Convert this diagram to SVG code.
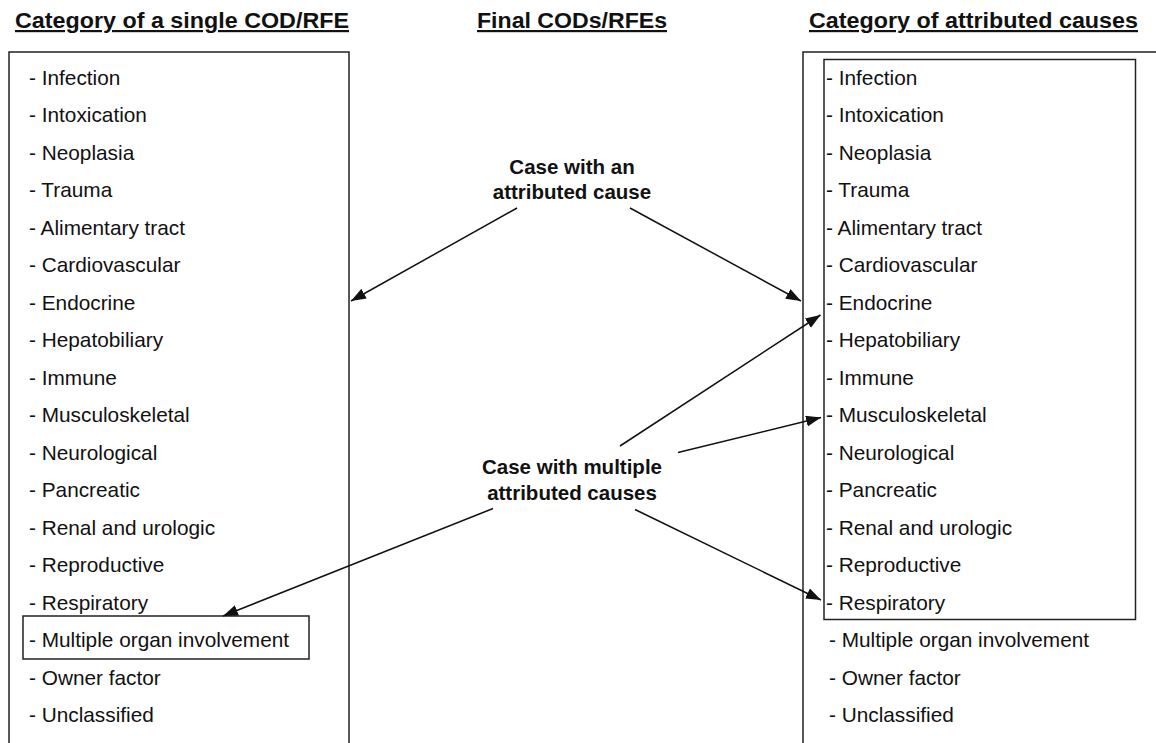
<svg xmlns="http://www.w3.org/2000/svg" width="1156" height="743" viewBox="0 0 1156 743">
<style>
.h{font-family:"Liberation Sans",Arial,sans-serif;font-weight:bold;font-size:22px;fill:#111;text-decoration:underline}
.t{font-family:"Liberation Sans",Arial,sans-serif;font-size:20.8px;fill:#111}
.m{font-family:"Liberation Sans",Arial,sans-serif;font-weight:bold;font-size:20.5px;fill:#111;text-anchor:middle}
.box{fill:none;stroke:#222;stroke-width:1.5}
.ul{stroke:#222;stroke-width:1.6}
.c{stroke:#111;stroke-width:1.5;fill:none;marker-end:url(#ah)}
</style>
<defs>
<marker id="ah" markerUnits="userSpaceOnUse" markerWidth="16" markerHeight="12" refX="15" refY="5.5" orient="auto">
<path d="M0,0 L15,5.5 L0,11 Z" fill="#111"/>
</marker>
</defs>
<rect width="1156" height="743" fill="#fff"/>
<g id="headers">
<text class="h" x="15" y="28" textLength="334" lengthAdjust="spacingAndGlyphs">Category of a single COD/RFE</text>
<text class="h" x="477" y="28" textLength="190" lengthAdjust="spacingAndGlyphs">Final CODs/RFEs</text>
<text class="h" x="809" y="28" textLength="329" lengthAdjust="spacingAndGlyphs">Category of attributed causes</text>
</g>
<g id="left-list">
<rect class="box" x="9" y="52" width="340" height="720"/>
<rect class="box" x="23" y="616" width="286" height="43"/>
<text class="t" x="29" y="84.5">- Infection</text>
<text class="t" x="29" y="122">- Intoxication</text>
<text class="t" x="29" y="159.5">- Neoplasia</text>
<text class="t" x="29" y="197">- Trauma</text>
<text class="t" x="29" y="234.5">- Alimentary tract</text>
<text class="t" x="29" y="272">- Cardiovascular</text>
<text class="t" x="29" y="309.5">- Endocrine</text>
<text class="t" x="29" y="347">- Hepatobiliary</text>
<text class="t" x="29" y="384.5">- Immune</text>
<text class="t" x="29" y="422">- Musculoskeletal</text>
<text class="t" x="29" y="459.5">- Neurological</text>
<text class="t" x="29" y="497">- Pancreatic</text>
<text class="t" x="29" y="534.5">- Renal and urologic</text>
<text class="t" x="29" y="572">- Reproductive</text>
<text class="t" x="29" y="609.5">- Respiratory</text>
<text class="t" x="29" y="647">- Multiple organ involvement</text>
<text class="t" x="29" y="684.5">- Owner factor</text>
<text class="t" x="29" y="722">- Unclassified</text>
</g>
<g id="right-list">
<rect class="box" x="803" y="52" width="400" height="720"/>
<rect class="box" x="824" y="59.5" width="311.5" height="560"/>
<text class="t" x="826" y="84.5">- Infection</text>
<text class="t" x="826" y="122">- Intoxication</text>
<text class="t" x="826" y="159.5">- Neoplasia</text>
<text class="t" x="826" y="197">- Trauma</text>
<text class="t" x="826" y="234.5">- Alimentary tract</text>
<text class="t" x="826" y="272">- Cardiovascular</text>
<text class="t" x="826" y="309.5">- Endocrine</text>
<text class="t" x="826" y="347">- Hepatobiliary</text>
<text class="t" x="826" y="384.5">- Immune</text>
<text class="t" x="826" y="422">- Musculoskeletal</text>
<text class="t" x="826" y="459.5">- Neurological</text>
<text class="t" x="826" y="497">- Pancreatic</text>
<text class="t" x="826" y="534.5">- Renal and urologic</text>
<text class="t" x="826" y="572">- Reproductive</text>
<text class="t" x="826" y="609.5">- Respiratory</text>
<text class="t" x="829" y="647">- Multiple organ involvement</text>
<text class="t" x="829" y="684.5">- Owner factor</text>
<text class="t" x="829" y="722">- Unclassified</text>
</g>
<g id="single-case">
<text class="m" x="572" y="173.5">Case with an</text>
<text class="m" x="572" y="198.5">attributed cause</text>
</g>
<g id="multiple-case">
<text class="m" x="572" y="474">Case with multiple</text>
<text class="m" x="572" y="499.5">attributed causes</text>
</g>
<g id="connectors">
<line class="c" x1="517" y1="208" x2="351" y2="301"/>
<line class="c" x1="630" y1="208" x2="801" y2="301"/>
<line class="c" x1="620" y1="446" x2="820.5" y2="315"/>
<line class="c" x1="678" y1="452.5" x2="821" y2="417.5"/>
<line class="c" x1="493" y1="508.5" x2="223" y2="616"/>
<line class="c" x1="635" y1="509.5" x2="821" y2="600"/>
</g>
</svg>
